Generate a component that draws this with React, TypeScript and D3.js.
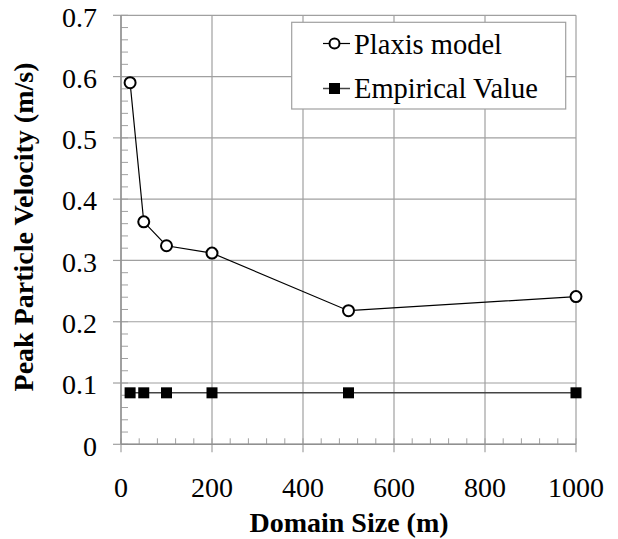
import React from "react";
import * as d3 from "d3";

const domainSizes = [20, 50, 100, 200, 500, 1000];
const plaxisValues = [0.59, 0.363, 0.324, 0.312, 0.218, 0.241];
const empiricalValues = [0.084, 0.084, 0.084, 0.084, 0.084, 0.084];
const xTicks = [0, 200, 400, 600, 800, 1000];
const yTicks = [0, 0.1, 0.2, 0.3, 0.4, 0.5, 0.6, 0.7];
const xMinor = d3.range(0, 1000.1, 40);
const yMinor = d3.range(0, 0.7001, 0.02);
const seriesNames = ["Plaxis model", "Empirical Value"];

const W = 618;
const H = 539;
const left = 121, right = 576, top = 15.3, bottom = 444.3;
const FONT = '"Liberation Serif"';
const GRID = "#a0a0a0";

export default function App() {
  const x = d3.scaleLinear().domain([0, 1000]).range([left, right]);
  const y = d3.scaleLinear().domain([0, 0.7]).range([bottom, top]);
  const line = d3
    .line<[number, number]>()
    .x((d) => x(d[0]))
    .y((d) => y(d[1]));
  const plaxis: [number, number][] = domainSizes.map((d, i) => [d, plaxisValues[i]]);
  const emp: [number, number][] = domainSizes.map((d, i) => [d, empiricalValues[i]]);
  const sq = 11;

  return (
    <svg width={W} height={H} style={{ position: "absolute", left: 0, top: 0, background: "#fff" }}>
      <rect x={0} y={0} width={W} height={H} fill="#fff" />
      {xTicks.map((t) => (
        <line key={"gx" + t} x1={x(t)} x2={x(t)} y1={top} y2={bottom} stroke={GRID} strokeWidth={1.2} />
      ))}
      {yTicks.map((t) => (
        <line key={"gy" + t} x1={left} x2={right} y1={y(t)} y2={y(t)} stroke={GRID} strokeWidth={1.2} />
      ))}
      {xMinor.map((t) => (
        <line key={"mx" + t} x1={x(t)} x2={x(t)} y1={bottom} y2={bottom - 6} stroke={GRID} strokeWidth={1} />
      ))}
      {yMinor.map((t) => (
        <line key={"my" + t} x1={left} x2={left + 7} y1={y(t)} y2={y(t)} stroke={GRID} strokeWidth={1} />
      ))}
      {xTicks.map((t) => (
        <line key={"tx" + t} x1={x(t)} x2={x(t)} y1={bottom} y2={bottom + 8} stroke={GRID} strokeWidth={1.2} />
      ))}
      {yTicks.map((t) => (
        <line key={"ty" + t} x1={left - 8} x2={left} y1={y(t)} y2={y(t)} stroke={GRID} strokeWidth={1.2} />
      ))}
      <line x1={left} x2={left} y1={top} y2={bottom} stroke="#909090" strokeWidth={1.4} />
      <line x1={left} x2={right} y1={bottom} y2={bottom} stroke="#909090" strokeWidth={1.4} />
      {yTicks.map((t) => (
        <text key={"ly" + t} x={97} y={y(t)} dy="0.4em" textAnchor="end" fontSize={28} fill="#000" style={{ fontFamily: FONT }}>
          {t === 0 ? "0" : t.toFixed(1)}
        </text>
      ))}
      {xTicks.map((t) => (
        <text key={"lx" + t} x={x(t)} y={497} textAnchor="middle" fontSize={28} fill="#000" style={{ fontFamily: FONT }}>
          {t}
        </text>
      ))}
      <text x={349} y={532} textAnchor="middle" fontSize={28} fontWeight="bold" fill="#000" style={{ fontFamily: FONT }}>
        Domain Size (m)
      </text>
      <text
        transform="translate(33, 227) rotate(-90)"
        textAnchor="middle"
        fontSize={28}
        fontWeight="bold"
        fill="#000"
        style={{ fontFamily: FONT }}
      >
        Peak Particle Velocity (m/s)
      </text>
      <path d={line(emp) || ""} fill="none" stroke="#444" strokeWidth={1.5} />
      {emp.map((d, i) => (
        <rect key={"e" + i} x={x(d[0]) - sq / 2} y={y(d[1]) - sq / 2} width={sq} height={sq} fill="#000" />
      ))}
      <path d={line(plaxis) || ""} fill="none" stroke="#000" strokeWidth={1.2} />
      {plaxis.map((d, i) => (
        <circle key={"p" + i} cx={x(d[0])} cy={y(d[1])} r={5.5} fill="#fff" stroke="#000" strokeWidth={2} />
      ))}
      <rect x={291.7} y={22.3} width={274} height={86.7} fill="#fff" stroke={GRID} strokeWidth={1.2} />
      <line x1={323} x2={350} y1={43.5} y2={43.5} stroke="#000" strokeWidth={1.2} />
      <circle cx={334.5} cy={43.5} r={5} fill="#fff" stroke="#000" strokeWidth={2} />
      <text x={354} y={54} fontSize={28.5} fill="#000" style={{ fontFamily: FONT }}>{seriesNames[0]}</text>
      <line x1={323} x2={350} y1={88.5} y2={88.5} stroke="#444" strokeWidth={1.5} />
      <rect x={334.5 - sq / 2} y={88.5 - sq / 2} width={sq} height={sq} fill="#000" />
      <text x={354} y={98} fontSize={28.5} fill="#000" style={{ fontFamily: FONT }}>{seriesNames[1]}</text>
    </svg>
  );
}
